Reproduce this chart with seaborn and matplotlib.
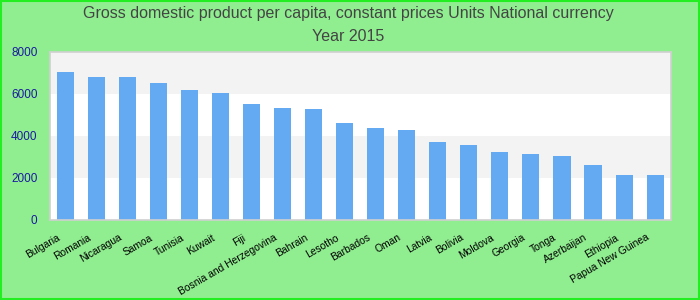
import matplotlib
matplotlib.use("Agg")
import matplotlib.pyplot as plt
import matplotlib.transforms as mtransforms
import seaborn as sns
import pandas as pd

# Data
countries = ['Bulgaria', 'Romania', 'Nicaragua', 'Samoa', 'Tunisia', 'Kuwait', 'Fiji',
             'Bosnia and Herzegovina', 'Bahrain', 'Lesotho', 'Barbados', 'Oman', 'Latvia',
             'Bolivia', 'Moldova', 'Georgia', 'Tonga', 'Azerbaijan', 'Ethiopia',
             'Papua New Guinea']
gdp = [7020, 6790, 6790, 6500, 6170, 6030, 5500, 5320, 5270, 4600,
       4360, 4270, 3700, 3550, 3230, 3130, 3040, 2610, 2140, 2140]
y_ticks = [0, 2000, 4000, 6000, 8000]

df = pd.DataFrame({'country': countries, 'gdp': gdp})

sns.set_style("white")
plt.rcParams['font.family'] = ['Liberation Sans', 'DejaVu Sans']

fig = plt.figure(figsize=(7, 3), dpi=100, facecolor='#90ee90')
ax = fig.add_axes([0.0714, 0.2667, 0.8866, 0.5616])

# alternating background bands
for i in range(len(y_ticks) - 1):
    band = '#ffffff' if i % 2 == 0 else '#f3f3f3'
    ax.axhspan(y_ticks[i], y_ticks[i + 1], color=band, zorder=0, linewidth=0)

sns.barplot(data=df, x='country', y='gdp', color='#63aaf3', width=0.55,
            saturation=1, linewidth=0, edgecolor='none', ax=ax, zorder=2)

ax.set_ylim(0, 8000)
ax.set_xlim(-0.5, len(countries) - 0.5)
ax.set_yticks(y_ticks)
ax.set_yticklabels([str(t) for t in y_ticks], color='#1a1aa0', fontsize=8.5)
ax.tick_params(axis='y', length=0, pad=9)
ax.tick_params(axis='x', length=0, pad=9)
shift = mtransforms.ScaledTranslation(-9 / 100, 0, fig.dpi_scale_trans)
for lab in ax.get_xticklabels():
    lab.set_rotation(30)
    lab.set_ha('right')
    lab.set_rotation_mode('anchor')
    lab.set_fontsize(7.4)
    lab.set_color('black')
    lab.set_transform(lab.get_transform() + shift)
ax.set_xlabel('')
ax.set_ylabel('')
for s in ax.spines.values():
    s.set_color('#d0d0d0')
    s.set_linewidth(1.2)

fig.text(0.497, 0.955, 'Gross domestic product per capita, constant prices Units National currency',
         ha='center', va='center', fontsize=11.5, color='#444444')
fig.text(0.497, 0.877, 'Year 2015', ha='center', va='center', fontsize=11.5, color='#444444')

# green border around the figure
fig.patches.append(plt.Rectangle((0.001, 0.002), 0.998, 0.996, transform=fig.transFigure,
                                 fill=False, edgecolor='#22ee22', linewidth=1.5))

fig.savefig('out.png', dpi=100, facecolor=fig.get_facecolor())
